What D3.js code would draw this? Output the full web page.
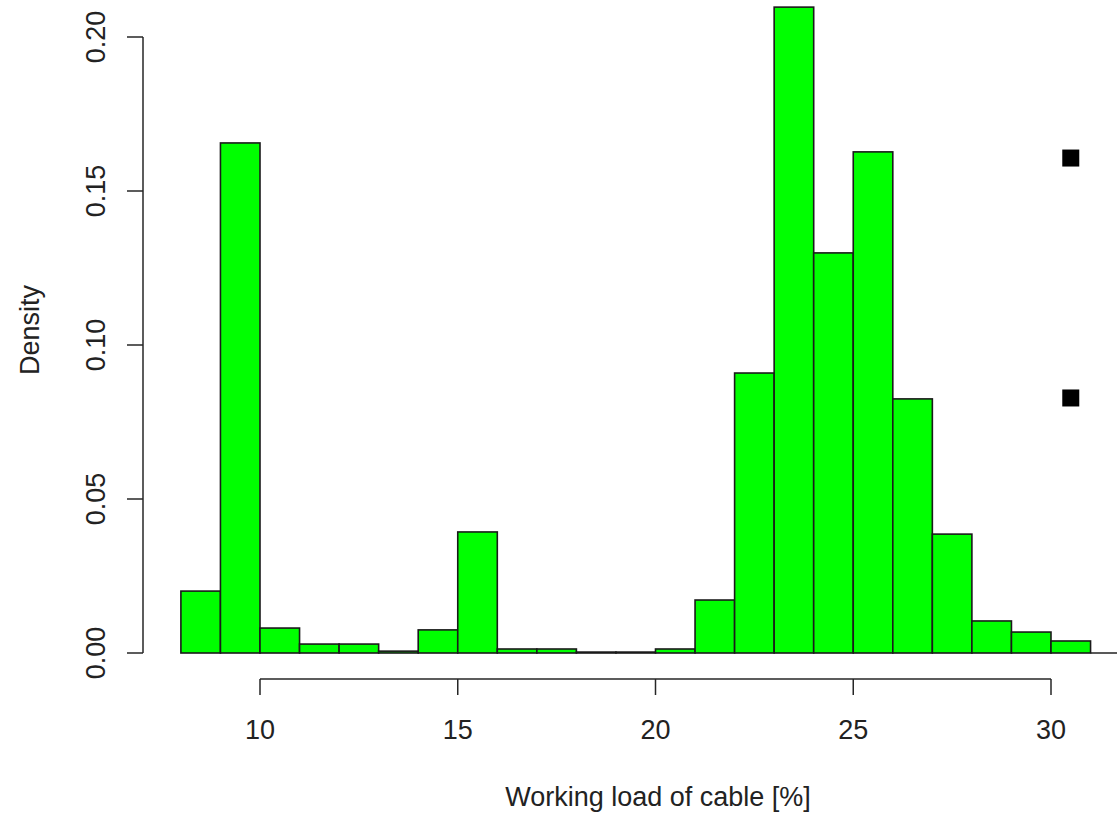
<!DOCTYPE html>
<html>
<head>
<meta charset="utf-8">
<script src="https://cdn.jsdelivr.net/npm/d3@7"></script>
<style>
  html, body { margin: 0; padding: 0; background: #fff; }
  svg { display: block; }
  text { font-family: "Liberation Sans", Arial, sans-serif; fill: #222; }
</style>
</head>
<body>
<svg id="chart" width="1117" height="814"></svg>
<script>
// Histogram bin edges (width 1) and densities
const binStarts = [8, 9, 10, 11, 12, 13, 14, 15, 16, 17, 18, 19, 20, 21, 22, 23, 24, 25, 26, 27, 28, 29, 30];
const densities = [0.0201, 0.1656, 0.0081, 0.0029, 0.0029, 0.0006, 0.0075, 0.0393, 0.0013, 0.0013, 0.0003, 0.0003,
                   0.0013, 0.0172, 0.0909, 0.2097, 0.1299, 0.1627, 0.0825, 0.0386, 0.0104, 0.0068, 0.0039];
const binWidth = 1;

// Extra marker points
const pointX = [30.5, 30.5];
const pointY = [0.1607, 0.0828];

const xTicks = [10, 15, 20, 25, 30];
const yTicks = [0.00, 0.05, 0.10, 0.15, 0.20];

const xLabel = "Working load of cable [%]";
const yLabel = "Density";

const svg = d3.select("#chart");
const W = 1117;

const x = d3.scaleLinear().domain([10, 30]).range([260, 1051]);
const y = d3.scaleLinear().domain([0, 0.2]).range([653, 37]);

const fontSize = 27;
const axisColor = "#262626";

// Baseline continuation to the right of the last bar
const lastEdge = binStarts[binStarts.length - 1] + binWidth;
svg.append("line")
  .attr("x1", x(lastEdge)).attr("x2", W)
  .attr("y1", y(0)).attr("y2", y(0))
  .attr("stroke", "#222").attr("stroke-width", 1.5);

// Bars
svg.append("g").selectAll("rect")
  .data(binStarts.map((s, i) => ({ s, d: densities[i] })))
  .join("rect")
  .attr("x", d => x(d.s))
  .attr("width", d => x(d.s + binWidth) - x(d.s))
  .attr("y", d => y(d.d))
  .attr("height", d => y(0) - y(d.d))
  .attr("fill", "#00ff00")
  .attr("stroke", "#1a1a1a")
  .attr("stroke-width", 1.6);

// Square markers
svg.append("g").selectAll("rect")
  .data(pointX.map((px, i) => ({ px, py: pointY[i] })))
  .join("rect")
  .attr("x", d => x(d.px) - 8.5)
  .attr("y", d => y(d.py) - 8.5)
  .attr("width", 17).attr("height", 17)
  .attr("fill", "#000");

// X axis (R style: line spans first to last tick)
const xAxis = svg.append("g");
xAxis.append("line")
  .attr("x1", x(xTicks[0])).attr("x2", x(xTicks[xTicks.length - 1]))
  .attr("y1", 679).attr("y2", 679)
  .attr("stroke", axisColor).attr("stroke-width", 1.5);
xAxis.selectAll("line.tick").data(xTicks).join("line")
  .attr("class", "tick")
  .attr("x1", d => x(d)).attr("x2", d => x(d))
  .attr("y1", 679).attr("y2", 695)
  .attr("stroke", axisColor).attr("stroke-width", 1.5);
xAxis.selectAll("text").data(xTicks).join("text")
  .attr("x", d => x(d)).attr("y", 739)
  .attr("text-anchor", "middle")
  .attr("font-size", fontSize)
  .text(d => d);

// Y axis
const yAxis = svg.append("g");
yAxis.append("line")
  .attr("x1", 143).attr("x2", 143)
  .attr("y1", y(yTicks[0])).attr("y2", y(yTicks[yTicks.length - 1]))
  .attr("stroke", axisColor).attr("stroke-width", 1.5);
yAxis.selectAll("line.tick").data(yTicks).join("line")
  .attr("class", "tick")
  .attr("x1", 127).attr("x2", 143)
  .attr("y1", d => y(d)).attr("y2", d => y(d))
  .attr("stroke", axisColor).attr("stroke-width", 1.5);
yAxis.selectAll("text").data(yTicks).join("text")
  .attr("transform", d => `translate(105,${y(d)}) rotate(-90)`)
  .attr("text-anchor", "middle")
  .attr("font-size", fontSize)
  .text(d => d3.format(".2f")(d));

// Axis titles
svg.append("text")
  .attr("x", 658).attr("y", 806)
  .attr("text-anchor", "middle")
  .attr("font-size", fontSize)
  .text(xLabel);

svg.append("text")
  .attr("transform", "translate(39,330) rotate(-90)")
  .attr("text-anchor", "middle")
  .attr("font-size", fontSize)
  .text(yLabel);
</script>
</body>
</html>
